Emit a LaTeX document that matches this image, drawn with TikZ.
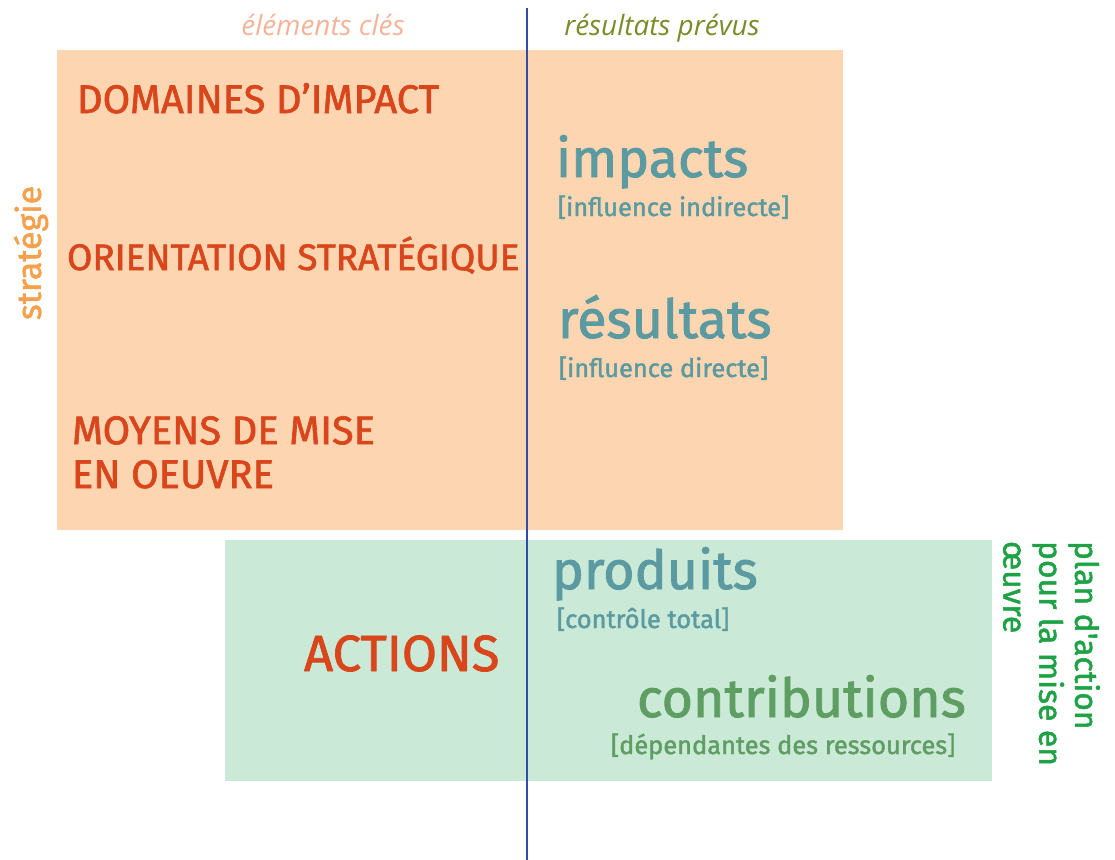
\documentclass[tikz,border=0pt]{standalone}
\usepackage{fontspec}
\setmainfont{Fira Sans}
\newfontfamily\medfont{Fira Sans}[FakeBold=1.6]
\newfontfamily\labelfont{Open Sans}
\begin{document}
\begin{tikzpicture}[x=1bp,y=-1bp,
  every node/.style={inner sep=0pt,outer sep=0pt},
  heading/.style={font=\labelfont\itshape\fontsize{28}{32}\selectfont, anchor=base},
  keyitem/.style={font=\medfont\fontsize{40}{44}\selectfont, text=keyred, anchor=base west, align=left},
  result/.style={font=\medfont\fontsize{54}{56}\selectfont, anchor=base west},
  note/.style={font=\medfont\fontsize{25.5}{28}\selectfont, anchor=base west},
  side/.style={font=\medfont\fontsize{32}{36}\selectfont, align=left}]
\definecolor{peach}{HTML}{FDD5B1}
\definecolor{mint}{HTML}{CAE9D6}
\definecolor{axisblue}{HTML}{2F4FA6}
\definecolor{keyred}{HTML}{D9461C}
\definecolor{teal}{HTML}{5A9AA0}
\definecolor{leafgreen}{HTML}{5E9E62}
\definecolor{salmon}{HTML}{F4B49A}
\definecolor{olive}{HTML}{7A8C2A}
\definecolor{stratorange}{HTML}{F5A04C}
\definecolor{plangreen}{HTML}{1FA245}
\useasboundingbox (0,0) rectangle (1115,860);
% strategy block and implementation block
\fill[peach] (57,50) rectangle (843,530);
\fill[mint] (225,540) rectangle (992,781);
% dividing axis
\draw[axisblue, line width=1.6bp] (527,8) -- (527,860);
% column headings
\node[heading, text=salmon] (hkey) at (323,35) {éléments clés};
\node[heading, text=olive] (hres) at (662,35) {résultats prévus};
% key elements
\node[keyitem] (dom) at (77,113) {DOMAINES D’IMPACT};
\node[keyitem, font=\medfont\fontsize{37}{44}\selectfont] (ori) at (67,270) {ORIENTATION STRATÉGIQUE};
\node[keyitem] (moy) at (72,488) {MOYENS DE MISE\\EN OEUVRE};
\node[keyitem, font=\medfont\fontsize{51}{56}\selectfont] (act) at (304,671) {ACTIONS};
% expected results
\node[result, text=teal] (imp) at (556,177) {impacts};
\node[note, text=teal] (impn) at (558,216) {[influence indirecte]};
\node[result, text=teal] (res) at (558,338) {résultats};
\node[note, text=teal] (resn) at (559,377) {[influence directe]};
\node[result, text=teal] (pro) at (552,589) {produits};
\node[note, text=teal] (pron) at (557,628) {[contrôle total]};
\node[result, text=leafgreen] (con) at (637,717) {contributions};
\node[note, text=leafgreen] (conn) at (611,754) {[dépendantes des ressources]};
% side labels
\node[side, font=\medfont\fontsize{34}{36}\selectfont, text=stratorange, rotate=90] (strat) at (31,253) {stratégie};
\node[side, text=plangreen, rotate=-90, anchor=north west] (plan) at (1100,541)
  {plan d'action\\pour la mise en\\œuvre};
\end{tikzpicture}
\end{document}
